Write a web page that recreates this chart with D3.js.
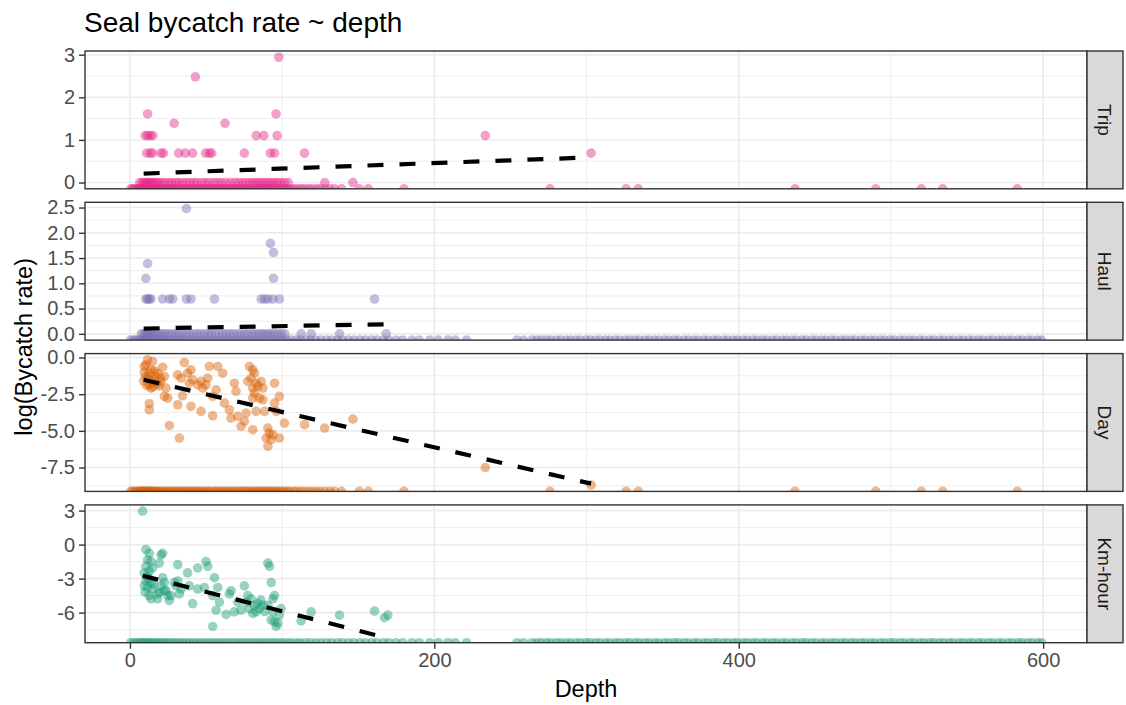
<!DOCTYPE html>
<html>
<head>
<meta charset="utf-8">
<script src="https://cdn.jsdelivr.net/npm/d3@7"></script>
<style>
body { margin: 0; background: #fff; }
text { font-family: "Liberation Sans", Arial, sans-serif; }
</style>
</head>
<body>
<div id="chart"></div>
<script>
// facets and colours (Dark2)
var facets = ["Trip", "Haul", "Day", "Km-hour"];
var colors = ["#E7298A", "#7570B3", "#D95F02", "#1B9E77"];

// depths of trips with no bycatch (log = -Inf) -> Trip and Day panels
var tripZeroDepth = [0.5,1.7,3.1,4.2,5.6,6.3,7.2,8.1,8.8,9.6,10.3,11.1,11.9,12.6,13.4,14.3,15.1,16.2,17.4,18.3,19.7,20.9,22.1,23.4,24.8,26.1,27.3,28.9,30.2,31.4,33.1,34.3,35.5,37.2,38.4,40.1,41.2,42.9,44.1,45.8,47.2,48.5,50.3,51.6,52.9,54.7,56.1,57.4,59.2,60.5,61.9,63.6,64.8,66.5,67.9,69.6,70.8,72.7,73.9,75.6,76.8,78.5,80.1,81.4,82.8,84.2,85.9,87.1,88.6,89.8,91.4,92.6,94.1,95.4,96.9,98.3,100.2,101.7,103.6,105.3,107.6,109.7,112.2,114.4,117.1,119.5,122.4,124.9,128.1,131.3,134.4,139,150.7,156.6,180,276,326,334,437,490,520,534,583];

// depths of hauls with no bycatch -> Haul and Km-hour panels
var haulZeroDepth = [0.4,2.3,4.1,5.7,7.3,8.4,9.8,11.3,12.5,14.1,15.4,17.2,18.7,20.6,22.2,24.1,25.9,28.2,30.1,32.5,34.4,37,39.1,41.7,43.9,46.6,48.8,51.5,53.9,56.6,59,61.7,64.1,66.9,69.4,72.1,74.5,77.3,79.7,82.4,84.8,87.5,89.9,92.7,95,97.8,100.3,103.1,105.9,109.2,112,115.4,118.5,122.1,125.4,129.1,132.5,136.3,139.7,143.6,147.1,151.2,154.7,158.8,162.3,166.5,170,174.8,179.2,185.3,190.1,197,202.6,208.9,213.7,221.2,254.3,258.6,264.1,267.4,270.3,273.8,276.6,280.2,283.1,286.7,289.5,293.1,296,299.6,302.4,305.9,308.8,312.5,315.3,318.9,321.7,325.4,328.2,331.8,334.6,338.3,341.1,344.7,347.5,351.2,354,357.6,360.4,364.1,366.9,370.5,373.3,377,379.8,383.4,386.2,389.9,392.7,396.3,399.1,402.8,405.6,409.2,412,415.7,418.5,422.1,424.9,428.6,431.4,435,437.8,441.5,444.3,447.9,450.7,454.4,457.2,460.8,463.6,467.3,470.1,473.7,476.5,480.2,483,486.6,489.4,493.1,495.9,499.5,502.3,506,508.8,512.4,515.2,518.9,521.7,525.3,528.1,531.8,534.6,538.2,541,544.7,547.5,551.1,553.9,557.6,560.4,564,566.8,570.5,573.3,576.9,579.7,583.4,586.2,589.8,592.6,596.3,598.9];

// Trip: trips with one seal (log rate 0) and the rest
var tripOneDepth = [6.5,8,9.3,10.4,11.5,12.5,13.6,14.8,16,17.5,19,21,23,25.5,27.5,30,32,34.5,37,39.5,42,44,47,49.5,52,55,57.5,60,63,66,69,71.5,74,76.5,79,81,83,85,87,89,91,93,95,97,99,101.5,104,128,146.5];
var tripDepth = [43,97.8,11.6,96,29,62.5,10,11.6,13.4,15,83,88,96.7,233.5,11,13.4,14.9,20.4,22,32,36.4,41.2,49.7,52.2,53.7,75.2,92.3,95,114.7,303];
var tripRate = [2.48,2.94,1.61,1.61,1.39,1.39,1.1,1.1,1.1,1.1,1.1,1.1,1.1,1.1,0.69,0.69,0.69,0.69,0.69,0.69,0.69,0.69,0.69,0.69,0.69,0.69,0.69,0.69,0.69,0.69];

// Haul
var haulOneDepth = [7.5,9,10.2,11.4,12.5,13.7,15,16.4,18,19.8,21.5,23.4,25.5,27.6,29.8,32,34.3,36.8,39.1,41.5,44,46.2,48.8,51.3,53.5,56,58.4,61,63.2,65.7,68,70.5,73,75.4,77.6,80,82.2,84.5,86.6,88.7,90.8,92.9,95,97.2,99.5,101.8,112.5,119.1,137.7,168.4];
var haulDepth = [37.1,92.3,94.3,11.6,10.5,94.3,10.5,11.6,12.7,13.8,21.5,25.9,28.1,37.1,40.1,55.5,86.2,88.4,90.6,93.9,98.2,160.7];
var haulRate = [2.48,1.79,1.61,1.39,1.1,1.1,0.69,0.69,0.69,0.69,0.69,0.69,0.69,0.69,0.69,0.69,0.69,0.69,0.69,0.69,0.69,0.69];

// Day
var dayDepth = [11.6,14.9,10.5,21.5,13.8,9.4,18.2,22.6,11.6,16.0,20.4,12.7,19.3,23.7,13.8,22.6,24.8,12.7,12.7,25.9,32.5,31.4,34.6,35.7,31.4,33.6,37.9,40.1,39.0,41.2,40.1,44.5,46.7,47.8,51.1,50.0,46.7,52.2,57.7,61.0,56.6,54.4,54.4,62.1,65.3,66.4,68.6,69.7,70.8,73.0,75.2,76.3,80.7,78.5,80.7,81.8,79.6,77.4,82.9,80.7,81.8,84.0,86.2,87.3,85.1,87.3,82.9,88.4,80.7,95.0,95.0,96.1,98.2,90.6,91.7,92.8,89.5,90.6,93.9,98.2,101.5,114.7,127.9,146.5,233.5,303,9.4,10.5,12.7,14.9,16,17,11,13,15,18,20,9];
var dayRate = [-0.16,-0.27,-0.50,-0.66,-0.84,-1.02,-1.07,-1.29,-1.41,-1.52,-1.63,-1.86,-1.93,-2.09,-2.09,-2.65,-2.77,-3.15,-3.56,-4.63,-5.49,-3.22,-2.61,-0.34,-1.18,-1.41,-1.07,-0.84,-1.75,-1.52,-3.33,-1.86,-1.63,-2.09,-1.41,-1.86,-3.67,-0.61,-0.61,-1.07,-2.20,-2.65,-3.97,-3.11,-3.56,-4.13,-1.75,-2.31,-4.01,-4.69,-4.35,-3.79,-4.92,-0.61,-0.84,-1.07,-1.41,-1.63,-1.75,-2.09,-2.43,-1.97,-1.63,-2.09,-2.77,-2.88,-3.67,-3.67,-2.77,-1.75,-3.11,-3.67,-2.65,-4.81,-5.15,-5.60,-5.49,-6.05,-5.26,-5.49,-4.47,-4.58,-4.81,-4.20,-7.5,-8.7,-0.6,-1.3,-1.1,-1.7,-0.9,-1.3,-1.9,-1.5,-2.0,-1.8,-1.4,-1.6];

// Km-hour
var kmDepth = [8.3,10.5,12.7,11.6,13.8,10.5,14.9,12.7,11.6,10.5,13.8,9.4,11.6,14.9,12.7,18.2,13.8,20.4,21.5,19.3,21.5,22.6,20.4,23.7,19.3,24.8,18.2,25.9,22.6,27,29.2,31.4,30.3,32.5,33.6,31.4,37.9,39.0,41.2,44.5,44.5,50.0,51.1,48.9,55.5,54.4,57.7,56.6,58.8,54.4,63.2,65.3,66.4,68.6,70.8,75.2,73.0,77.4,79.6,81.8,78.5,76.3,82.9,85.1,87.3,80.7,90.6,91.7,92.8,90.6,93.9,92.8,95.0,96.1,97.2,98.2,93.9,95.0,99.3,112.5,119.1,137.7,160.7,167.3,169.5,9.4,12,15.5,10,84,88.5,86];
var kmRate = [2.95,-0.43,-0.77,-1.34,-1.49,-1.92,-2.06,-2.35,-2.78,-3.21,-3.35,-3.64,-3.78,-3.92,-4.50,-4.35,-4.78,-0.91,-0.77,-1.63,-2.92,-3.35,-3.64,-4.07,-4.21,-4.50,-4.78,-4.93,-4.07,-4.50,-3.35,-3.21,-3.64,-4.35,-3.92,-1.77,-2.49,-3.64,-5.21,-2.06,-3.92,-1.49,-1.92,-3.78,-2.92,-4.50,-3.78,-5.79,-5.07,-7.22,-6.16,-4.35,-4.07,-5.93,-5.07,-3.64,-5.79,-4.50,-4.78,-5.36,-5.64,-5.07,-5.93,-5.64,-5.36,-6.07,-1.63,-1.92,-3.35,-5.36,-5.93,-6.65,-6.79,-7.22,-6.93,-6.22,-4.78,-4.50,-5.64,-6.73,-5.93,-6.22,-5.87,-6.45,-6.22,-2.5,-3.0,-3.5,-4.2,-5.2,-5.9,-4.9];

// linear fit ends (depth, log rate) per facet
var fitDepth = [[9, 303], [9, 169], [9, 303], [8.3, 165]];
var fitRate = [[0.21, 0.59], [0.105, 0.19], [-1.52, -8.6], [-2.74, -8.1]];

// y ticks per facet
var yTicks = [[0, 1, 2, 3], [0, 0.5, 1, 1.5, 2, 2.5], [-7.5, -5, -2.5, 0], [-6, -3, 0, 3]];
var yTickLabels = [["0", "1", "2", "3"], ["0.0", "0.5", "1.0", "1.5", "2.0", "2.5"], ["-7.5", "-5.0", "-2.5", "0.0"], ["-6", "-3", "0", "3"]];
var xTicks = [0, 200, 400, 600];

// build the point sets per facet
function pts(depth, rate) { return depth.map(function(d, i) { return {d: d, r: rate[i]}; }); }
function negInf(depth) { return depth.map(function(d) { return {d: d, r: -Infinity}; }); }
function ones(depth) { return depth.map(function(d) { return {d: d, r: 0}; }); }
var panelData = [
  negInf(tripZeroDepth).concat(ones(tripOneDepth), pts(tripDepth, tripRate)),
  negInf(haulZeroDepth).concat(ones(haulOneDepth), pts(haulDepth, haulRate)),
  negInf(tripZeroDepth).concat(pts(dayDepth, dayRate)),
  negInf(haulZeroDepth).concat(pts(kmDepth, kmRate))
];

var W = 1126, H = 705;
var panelLeft = 85, panelRight = 1087, stripW = 36;
var panelTop0 = 51, panelH = 137.8, panelGap = 13.5;
var FONT = "'Liberation Sans', Arial, sans-serif";

var svg = d3.select("#chart").append("svg")
    .attr("width", W)
    .attr("height", H)
    .style("background-color", "#fff");

var allDepth = d3.merge(panelData).map(function(p) { return p.d; });
var xExt = d3.extent(allDepth), xPad = (xExt[1] - xExt[0]) * 0.05;
var x = d3.scaleLinear().domain([xExt[0] - xPad, xExt[1] + xPad]).range([panelLeft, panelRight]);

function minorOf(ticks, domain) {
  var step = ticks[1] - ticks[0], out = [];
  for (var v = ticks[0] - step / 2; v <= ticks[ticks.length - 1] + step; v += step) {
    if (v >= Math.min(domain[0], domain[1]) && v <= Math.max(domain[0], domain[1])) out.push(v);
  }
  return out;
}

facets.forEach(function(name, i) {
  var top = panelTop0 + i * (panelH + panelGap);
  var data = panelData[i];
  var finite = data.filter(function(p) { return isFinite(p.r); }).map(function(p) { return p.r; }).concat(fitRate[i]);
  var ext = d3.extent(finite), pad = (ext[1] - ext[0]) * 0.05;
  var y = d3.scaleLinear().domain([ext[0] - pad, ext[1] + pad]).range([top + panelH, top]);

  var g = svg.append("g");

  g.append("clipPath").attr("id", "clip" + i)
    .append("rect")
    .attr("x", panelLeft).attr("y", top)
    .attr("width", panelRight - panelLeft).attr("height", panelH);

  // grid
  var grid = g.append("g");
  grid.selectAll(".yminor").data(minorOf(yTicks[i], y.domain())).enter().append("line")
    .attr("x1", panelLeft).attr("x2", panelRight)
    .attr("y1", function(d) { return y(d); }).attr("y2", function(d) { return y(d); })
    .attr("stroke", "#EBEBEB").attr("stroke-width", 0.9);
  grid.selectAll(".xminor").data(minorOf(xTicks, x.domain())).enter().append("line")
    .attr("y1", top).attr("y2", top + panelH)
    .attr("x1", function(d) { return x(d); }).attr("x2", function(d) { return x(d); })
    .attr("stroke", "#EBEBEB").attr("stroke-width", 0.9);
  grid.selectAll(".ymajor").data(yTicks[i]).enter().append("line")
    .attr("x1", panelLeft).attr("x2", panelRight)
    .attr("y1", function(d) { return y(d); }).attr("y2", function(d) { return y(d); })
    .attr("stroke", "#EBEBEB").attr("stroke-width", 1.6);
  grid.selectAll(".xmajor").data(xTicks).enter().append("line")
    .attr("y1", top).attr("y2", top + panelH)
    .attr("x1", function(d) { return x(d); }).attr("x2", function(d) { return x(d); })
    .attr("stroke", "#EBEBEB").attr("stroke-width", 1.6);

  // points, -Inf goes to the panel's bottom edge
  var inner = g.append("g").attr("clip-path", "url(#clip" + i + ")");
  inner.selectAll("circle").data(data).enter().append("circle")
    .attr("cx", function(p) { return x(p.d); })
    .attr("cy", function(p) { return isFinite(p.r) ? y(p.r) : y.range()[0]; })
    .attr("r", 4.8)
    .attr("fill", colors[i])
    .attr("fill-opacity", 0.45);

  // fitted line
  var line = d3.line().x(function(d) { return x(d[0]); }).y(function(d) { return y(d[1]); });
  inner.append("path")
    .datum(d3.zip(fitDepth[i], fitRate[i]))
    .attr("d", line)
    .attr("fill", "none")
    .attr("stroke", "#000")
    .attr("stroke-width", 4.2)
    .attr("stroke-dasharray", "16,16");

  // border
  g.append("rect")
    .attr("x", panelLeft).attr("y", top)
    .attr("width", panelRight - panelLeft).attr("height", panelH)
    .attr("fill", "none").attr("stroke", "#333333").attr("stroke-width", 1.4);

  // strip
  g.append("rect")
    .attr("x", panelRight).attr("y", top)
    .attr("width", stripW).attr("height", panelH)
    .attr("fill", "#D9D9D9").attr("stroke", "#333333").attr("stroke-width", 1.4);
  g.append("text")
    .attr("transform", "translate(" + (panelRight + stripW / 2) + "," + (top + panelH / 2) + ") rotate(90)")
    .attr("text-anchor", "middle")
    .attr("dy", "0.35em")
    .attr("font-size", 19)
    .attr("fill", "#1A1A1A")
    .text(name);

  // y axis
  var yAxis = g.append("g")
    .attr("transform", "translate(" + panelLeft + ",0)")
    .call(d3.axisLeft(y).tickValues(yTicks[i]).tickSize(6).tickPadding(4)
      .tickFormat(function(d, j) { return yTickLabels[i][j]; }));
  yAxis.select(".domain").remove();
  yAxis.selectAll(".tick line").attr("stroke", "#333333").attr("stroke-width", 1.4);
  yAxis.selectAll(".tick text").attr("fill", "#4D4D4D").attr("font-size", 20)
    .style("font-family", FONT);

  if (i === facets.length - 1) {
    var xAxis = g.append("g")
      .attr("transform", "translate(0," + (top + panelH) + ")")
      .call(d3.axisBottom(x).tickValues(xTicks).tickSize(6).tickPadding(4));
    xAxis.select(".domain").remove();
    xAxis.selectAll(".tick line").attr("stroke", "#333333").attr("stroke-width", 1.4);
    xAxis.selectAll(".tick text").attr("fill", "#4D4D4D").attr("font-size", 20)
      .style("font-family", FONT);
  }
});

svg.append("text")
  .attr("x", 84).attr("y", 32)
  .attr("font-size", 28)
  .attr("fill", "#000")
  .text("Seal bycatch rate ~ depth");

svg.append("text")
  .attr("x", (panelLeft + panelRight) / 2).attr("y", 697)
  .attr("text-anchor", "middle")
  .attr("font-size", 23.5)
  .attr("fill", "#000")
  .text("Depth");

svg.append("text")
  .attr("transform", "translate(32," + (panelTop0 + (4 * panelH + 3 * panelGap) / 2) + ") rotate(-90)")
  .attr("text-anchor", "middle")
  .attr("font-size", 23.5)
  .attr("fill", "#000")
  .text("log(Bycatch rate)");
</script>
</body>
</html>
